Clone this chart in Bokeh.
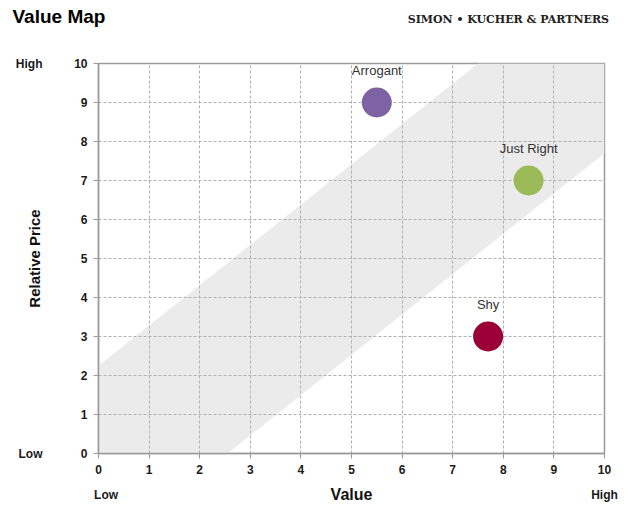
from bokeh.plotting import figure
from bokeh.models import Range1d, FixedTicker, ColumnDataSource, LinearAxis, Title
from bokeh.core.properties import value
from bokeh.embed import file_html
from bokeh.resources import INLINE

# --- data ---
names = ["Arrogant", "Just Right", "Shy"]
value_x = [5.5, 8.5, 7.7]
price_y = [9.0, 7.0, 3.0]
colors = ["#7F62A3", "#9BBB59", "#9B0036"]
band_x = [0, 2.55, 10, 10, 7.5, 0]
band_y = [0, 0, 7.7, 10, 10, 2.25]
ticks = list(range(0, 11))
y_end_ticks = [0, 10]
y_end_labels = {0: "Low", 10: "High"}
x_end_ticks = [0.15, 10]
x_end_labels = {0.15: "Low", 10: "High"}
brand_tick = [8.1]
brand_label = {8.1: "SIMON \u2022 KUCHER & PARTNERS"}

FONT = "Liberation Sans"

p = figure(width=633, height=507, output_backend="svg", toolbar_location=None,
           x_range=Range1d(0, 10), y_range=Range1d(0, 10),
           min_border_left=98, min_border_right=29, min_border_top=63, min_border_bottom=54)
p.background_fill_color = "white"
p.border_fill_color = "white"
p.outline_line_color = "#9a9a9a"
p.outline_line_width = 1.5

p.patch(band_x, band_y, fill_color="#ebebeb", line_color=None, level="underlay")

for ax in (p.xaxis[0], p.yaxis[0]):
    ax.ticker = FixedTicker(ticks=ticks)
    ax.axis_line_color = "#9a9a9a"
    ax.axis_line_width = 1.5
    ax.major_tick_line_color = "#9a9a9a"
    ax.major_tick_in = 0
    ax.major_tick_out = 5
    ax.minor_tick_line_color = None
    ax.major_label_text_font = FONT
    ax.major_label_text_font_style = "bold"
    ax.major_label_text_font_size = "12px"
    ax.major_label_text_color = "#1a1a1a"
    ax.axis_label_text_font = FONT
    ax.axis_label_text_font_style = "bold"
    ax.axis_label_text_color = "#111111"
p.xaxis.major_label_standoff = 6
p.yaxis.major_label_standoff = 6
p.xaxis.axis_label = "Value"
p.xaxis.axis_label_text_font_size = "16px"
p.xaxis.axis_label_standoff = 9
p.yaxis.axis_label = "Relative Price"
p.yaxis.axis_label_text_font_size = "15px"
p.yaxis.axis_label_standoff = 28

for g in (p.xgrid[0], p.ygrid[0]):
    g.ticker = FixedTicker(ticks=ticks)
    g.grid_line_color = "#b0b0b0"
    g.grid_line_dash = "3 2"
    g.grid_line_width = 1

src = ColumnDataSource(dict(x=value_x, y=price_y, name=names, color=colors))
p.scatter("x", "y", source=src, size=30, fill_color="color", line_color=None)
p.text("x", "y", text="name", source=src, y_offset=-32, text_align="center",
       text_baseline="middle", text_font=value(FONT), text_font_size="13px",
       text_color="#333333")


def text_axis(tick_list, labels, standoff, size="12px", font=FONT, color="#1a1a1a"):
    a = LinearAxis(ticker=FixedTicker(ticks=tick_list), major_label_overrides=labels)
    a.axis_line_color = None
    a.major_tick_line_color = None
    a.minor_tick_line_color = None
    a.major_tick_in = 0
    a.major_tick_out = 0
    a.major_label_standoff = standoff
    a.major_label_text_font = font
    a.major_label_text_font_style = "bold"
    a.major_label_text_font_size = size
    a.major_label_text_color = color
    return a

# brand (right) on the top row, then the title (left) on the same row
p.add_layout(text_axis(brand_tick, brand_label, 38, size="11px",
                       font="DejaVu Serif", color="#222222"), "above")
p.add_layout(Title(text="Value Map", align="left", vertical_align="bottom", offset=-86,
                   standoff=-34, text_font=FONT, text_font_size="19px",
                   text_font_style="bold", text_color="#000000"), "above")
# High / Low end labels
p.add_layout(text_axis(y_end_ticks, y_end_labels, -19), "left")
p.add_layout(text_axis(x_end_ticks, x_end_labels, -18), "below")

open("out.html", "w").write(file_html(p, INLINE))
